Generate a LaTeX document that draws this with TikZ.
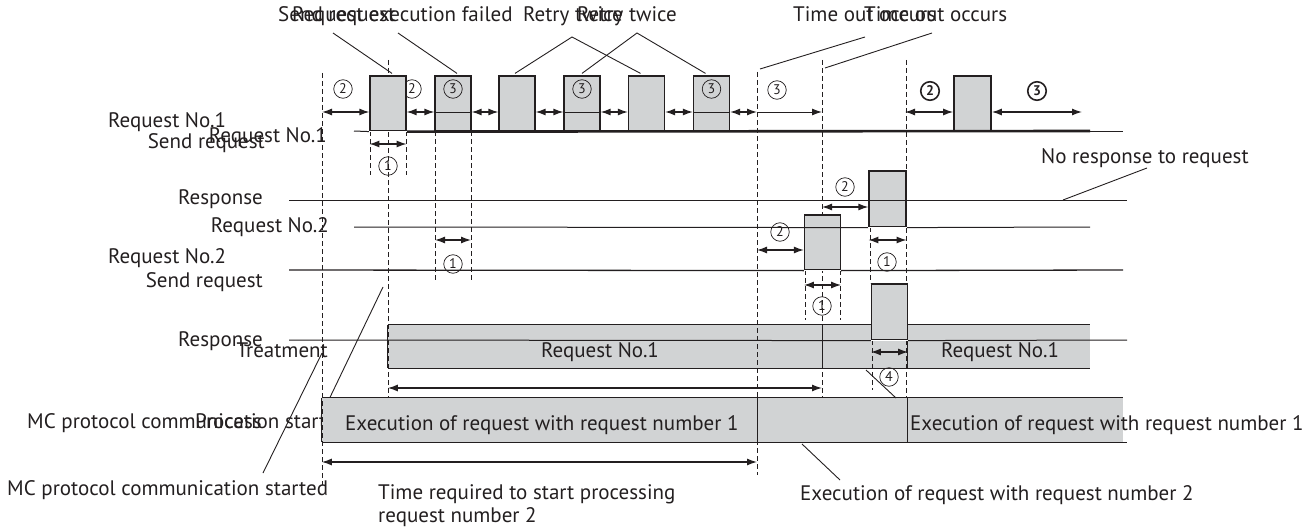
\documentclass[tikz,border=0pt]{standalone}
\usepackage{fontspec}
\setmainfont{PT Sans}
\usetikzlibrary{arrows.meta}
\definecolor{ink}{HTML}{231F20}
\definecolor{shade}{HTML}{D1D3D4}
\newcommand{\lblsize}{\fontsize{21}{23}\selectfont}
\newcommand{\numsize}{\fontsize{14}{14}\selectfont}
\tikzset{
 every node/.append style={font=\lblsize,text=ink,inner sep=0pt},
 tag/.style={anchor=base west},
 tagr/.style={anchor=base east},
 tagc/.style={anchor=base},
 num/.style={circle,draw=ink,line width=.7pt,minimum size=18.5pt,inner sep=0pt,font=\numsize},
 numbold/.style={num,line width=1.6pt,font=\numsize\bfseries},
 pulse/.style={draw=ink,fill=shade,line width=1.2pt,minimum width=36pt,minimum height=55pt},
 bar/.style={fill=shade,inner sep=0pt},
 row/.style={draw=ink,line width=1pt},
 base/.style={draw=ink,line width=2.6pt},
 gap/.style={draw=white,line width=1.6pt},
 guide/.style={draw=ink,line width=.8pt,dash pattern=on 5pt off 3pt},
 span/.style={{Latex[length=10pt,width=7pt]}-{Latex[length=10pt,width=7pt]},draw=ink,line width=1.3pt},
 reach/.style={-{Latex[length=10pt,width=7pt]},draw=ink,line width=1pt},
 lead/.style={draw=ink,line width=.9pt},
}

\begin{document}
\begin{tikzpicture}[x=1pt,y=-1pt]
\useasboundingbox (0,0) rectangle (1310,527);

% labels left of the bars (partly covered by the process bar)
\node[tag] (lMC) at (27,428) {MC protocol communication started};
\node[tagr] (lProc) at (262,428) {Process};

% bars
\node[bar,minimum width=702pt,minimum height=43pt] (treat) at (739,346.5) {};
\node[bar,minimum width=801pt,minimum height=44pt] (proc) at (722.5,420) {};
\draw[row] (treat.north west) -- (treat.north east);
\draw[row] (treat.south west) -- (treat.south east);
\draw[row] (treat.north west) -- (treat.south west);
\draw[row] (proc.north west) -- (proc.north east);
\draw[row] (proc.south west) -- ++(805,0);
\draw[row] (proc.north west) -- (proc.south west);

% time marks
\draw[guide] (322,73) -- (322,485);
\draw[guide] (388,60) -- (388,397);
\draw[guide] (370,131) -- (370,175);
\draw[guide] (406,131) -- (406,175);
\draw[guide] (435,131) -- (435,280);
\draw[guide] (471,131) -- (471,280);
\draw[guide] (757,72) -- (757,475);
\draw[guide] (822,60) -- (822,397);
\draw[guide] (906,60) -- (906,397);
\draw[guide] (805,270) -- (805,320);
\draw[guide] (840,270) -- (840,320);
\draw[guide] (870,227) -- (870,283);
\draw[guide] (872,340) -- (872,390);

\draw[row] (822,325) -- (822,368);
\draw[row] (907,340) -- (907,368);
\draw[row] (757,398) -- (757,442);
\draw[row] (907,398) -- (907,442);

\node[num] (n2a) at (412,89) {2};

% pulses
\node[pulse] (p1) at (388,103.5) {};
\node[pulse] (p2) at (453,103.5) {};
\node[pulse] (p3) at (517,103.5) {};
\node[pulse] (p4) at (582,103.5) {};
\node[pulse] (p5) at (646.5,103.5) {};
\node[pulse] (p6) at (711.5,103.5) {};
\node[pulse,minimum width=37pt,line width=1.6pt] (p7) at (972.5,103.5) {};
\node[pulse,minimum width=37pt,minimum height=56pt] (q1) at (887.5,199) {};
\node[pulse] (q2) at (822.5,242.5) {};
\node[pulse,minimum height=56pt] (q3) at (889.5,312) {};

% rows
\draw[row] (354,131) -- (p1.south west);
\draw[base] (p1.south east) -- (1090,131);
\draw[row] (1090,131) -- (1123,131);
\draw[gap] (p1.south west) -- (p1.south east);
\draw[row] (289,200) -- (1127,200);
\draw[row] (354,227) -- (q1.south west);
\draw[row] (q1.south east) -- (1090,227);
\draw[gap] (q1.south west) -- (q1.south east);
\draw[row,line width=1.3pt] (289,270) -- (q2.south west);
\draw[row,line width=1.3pt] (q2.south east) -- (1123,270);
\draw[gap] (q2.south west) -- (q2.south east);
\draw[row] (289,340) -- (q3.south west);
\draw[row] (q3.south east) -- (1127,340);
\draw[gap] (q3.south west) -- (q3.south east);

% dimensions on the request line
\coordinate (dimA) at (0,112);
\coordinate (comStart) at (322,112);
\coordinate (tmo) at (757,112);
\coordinate (tmoEnd) at (822,112);
\coordinate (rst) at (905,112);
\coordinate (endA) at (1082,112);
\draw[span] (comStart) -- (p1.west |- dimA);
\draw[span] (p1.east |- dimA) -- (p2.west |- dimA);
\draw[row] (p2.west |- dimA) -- (p2.east |- dimA);
\draw[span] (p2.east |- dimA) -- (p3.west |- dimA);
\draw[span] (p3.east |- dimA) -- (p4.west |- dimA);
\draw[row] (p4.west |- dimA) -- (p4.east |- dimA);
\draw[span] (p4.east |- dimA) -- (p5.west |- dimA);
\draw[span] (p5.east |- dimA) -- (p6.west |- dimA);
\draw[row] (p6.west |- dimA) -- (p6.east |- dimA);
\draw[span] (p6.east |- dimA) -- (tmo);
\draw[reach] (tmo) -- (tmoEnd);
\draw[span] (rst) -- (p7.west |- dimA);
\draw[span] (p7.east |- dimA) -- (endA);

\node[num] (n2b) at (343,89) {2};
\node[num] (n3a) at (p2 |- n2b) {3};
\node[num] (n3b) at (p4 |- n2b) {3};
\node[num] (n3c) at (p6 |- n2b) {3};
\node[num] (n3d) at (777,90) {3};
\node[numbold] (n2c) at (930,91) {2};
\node[numbold] (n3e) at (1037,91) {3};

% widths of the pulses
\coordinate (dimB) at (0,144);
\draw[span] (p1.west |- dimB) -- (p1.east |- dimB);
\node[num] (n1a) at (388,166) {1};
\draw[span] (435,240) -- (471,240);
\node[num] (n1b) at (453,264) {1};
\draw[span] (757,250) -- (q2.west |- 0,250);
\node[num] (n2d) at (780,232) {2};
\draw[span] (822,207) -- (q1.west |- 0,207);
\node[num] (n2e) at (845,187) {2};
\draw[span] (q2.west |- 0,285) -- (q2.east |- 0,285);
\node[num] (n1c) at (822,306) {1};
\draw[span] (q1.west |- 0,240) -- (q1.east |- 0,240);
\node[num] (n1d) at (887,262) {1};
\draw[span] (q3.west |- 0,352) -- (q3.east |- 0,352);
\node[num] (n4) at (889,377) {4};

\draw[span] (treat.west |- 0,388) -- (822,388);
\draw[span] (proc.west |- 0,462) -- (757,462);

% row names
\node[tag] (lReq1) at (108,128) {Request No.1};
\node[tagr] (lReq1b) at (327,142) {Request No.1};
\node[tagr] (lSend1) at (265,148) {Send request};
\node[tagr] (lResp1) at (263,204) {Response};
\node[tagr] (lReq2b) at (329,232) {Request No.2};
\node[tag] (lReq2) at (108,263) {Request No.2};
\node[tagr] (lSend2) at (263,287) {Send request};
\node[tagr] (lResp2) at (263,346) {Response};
\node[tagr] (lTreat) at (328,357) {Treatment};

% texts in the bars
\node[tagc] (xReq1) at (600,357) {Request No.1};
\node[tagc] (xReq1b) at (1000,357) {Request No.1};
\node[tag] (xExec1) at (345,430) {Execution of request with request number 1};
\node[tag] (xExec1b) at (910,430) {Execution of request with request number 1};

% callouts
\node[tag] (tSend) at (278,22) {Send request};
\node[tag] (tFail) at (292,22) {Request execution failed};
\node[tag] (tRetryA) at (523,22) {Retry twice};
\node[tag] (tRetryB) at (577,22) {Retry twice};
\node[tag] (tTimeA) at (793,22) {Time out occurs};
\node[tag] (tTimeB) at (864,22) {Time out occurs};
\node[tag] (lNoResp) at (1041,163) {No response to request};
\node[tag] (lMCb) at (7,495) {MC protocol communication started};
\node[tag,align=left] (lTimeReq) at (378,522) {Time required to start processing\\request number 2};
\node[tag] (lExec2) at (800,500) {Execution of request with request number 2};

\coordinate (sendFoot) at (333,33);
\coordinate (failFoot) at (398,33);
\coordinate (retryA) at (572,37);
\coordinate (retryB) at (637,33);
\coordinate (timeA) at (865,37);
\coordinate (timeB) at (932,33);
\coordinate (noRespFoot) at (1147,168);
\coordinate (mcFoot) at (263,473);
\coordinate (mcTip) at (322,353);
\coordinate (mcTipB) at (383,287);
\coordinate (exec2Foot) at (840,480);
\coordinate (fourFoot) at (866,370);

\draw[lead] (sendFoot) -- ([xshift=4pt,yshift=2pt]p1.north);
\draw[lead] (failFoot) -- ([xshift=4pt,yshift=2pt]p2.north);
\draw[lead] ([xshift=-2pt,yshift=2pt]p3.north) -- (retryA) -- ([xshift=-6pt,yshift=2pt]p5.north);
\draw[lead] ([yshift=2pt]p4.north) -- (retryB) -- ([xshift=-6pt,yshift=2pt]p6.north);
\draw[lead] (timeA) -- (760,69);
\draw[lead] (timeB) -- (825,68);
\draw[lead] (noRespFoot) -- (1063,200);
\draw[lead] (mcFoot) -- (mcTip);
\draw[lead] ([xshift=8pt]proc.north west) -- (mcTipB);
\draw[lead] (exec2Foot) -- (802,444);
\draw[lead] (fourFoot) -- (896,398);

\end{tikzpicture}
\end{document}
